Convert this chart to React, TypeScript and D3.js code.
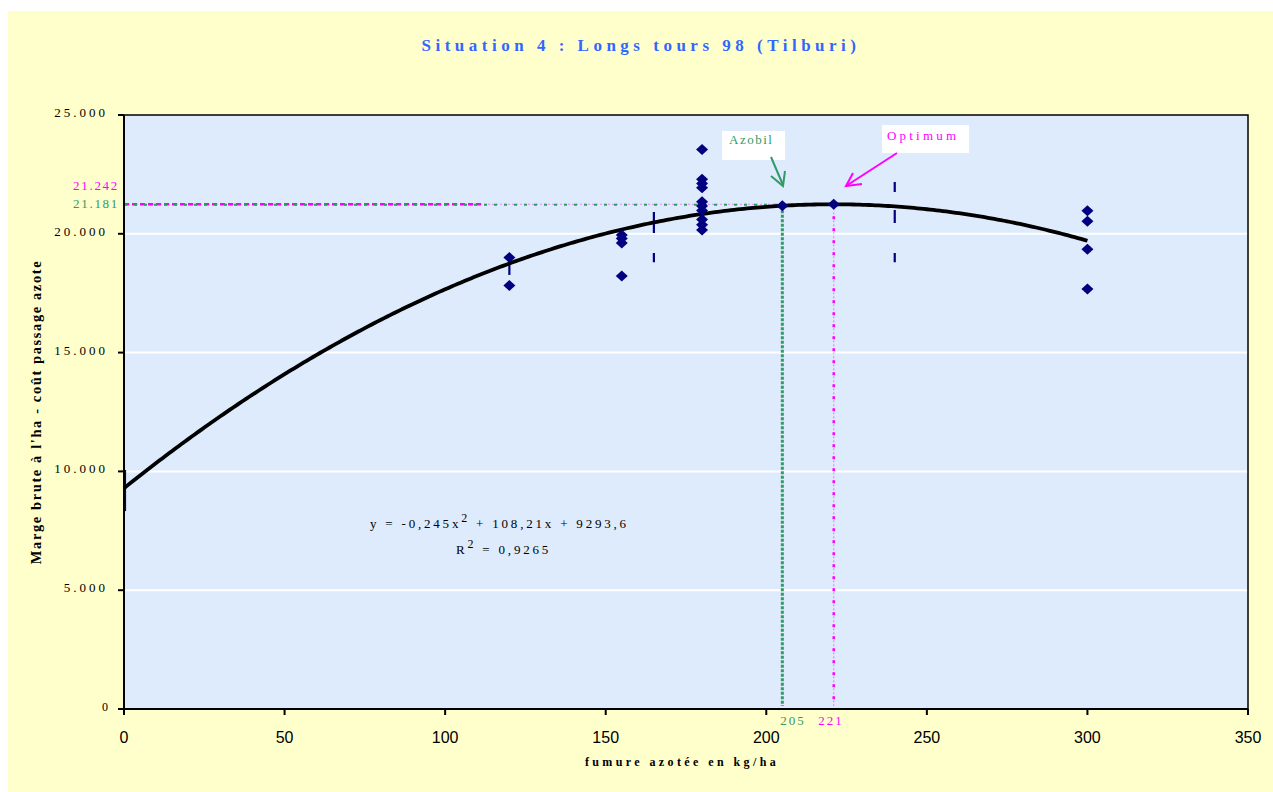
import React from "react";
import * as d3 from "d3";

const title = "Situation 4 : Longs tours 98 (Tilburi)";
const xLabel = "fumure azotée en kg/ha";
const yLabel = "Marge brute à l'ha - coût passage azote";

const xTicks = [0, 50, 100, 150, 200, 250, 300, 350];
const yTicks = [0, 5000, 10000, 15000, 20000, 25000];

// observed points (kg N/ha, margin €/ha)
const pointX = [120, 120, 155, 155, 155, 155, 180, 180, 180, 180, 180, 180, 180, 180, 180, 180, 205, 221, 300, 300, 300, 300];
const pointY = [19000, 17820, 19950, 19800, 19610, 18220, 23550, 22300, 22120, 21940, 21350, 21170, 20980, 20600, 20380, 20160, 21181, 21242, 20970, 20530, 19350, 17680];

// vertical interval marks
const barX = [0, 120, 165, 240];
const barLow = [8330, 18270, 18800, 18800];
const barHigh = [10060, 18780, 20920, 22180];
const barDash = ["", "", "21 20", "10 18 13 30"];

// trendline coefficients (from chart equation)
const coefA = -0.245;
const coefB = 108.21;
const coefC = 9293.6;
const trendXMin = 0;
const trendXMax = 300;

const azobilX = 205;
const azobilY = 21181;
const optimumX = 221;
const optimumY = 21242;

const W = 1273;
const H = 792;
const plot = { left: 124, right: 1248, top: 115, bottom: 709 };

export default function App() {
  const x = d3.scaleLinear().domain([0, 350]).range([plot.left, plot.right]);
  const y = d3.scaleLinear().domain([0, 25000]).range([plot.bottom, plot.top]);

  const trendPts: [number, number][] = d3
    .range(trendXMin, trendXMax + 0.001, 1)
    .map((v) => [v, coefA * v * v + coefB * v + coefC]);
  const line = d3
    .line<[number, number]>()
    .x((d) => x(d[0]))
    .y((d) => y(d[1]));

  const green = "#339966";
  const magenta = "#FF00FF";
  const navy = "#000080";
  const serif = "'Liberation Serif', 'Times New Roman', serif";
  const sans = "'Liberation Sans', Arial, sans-serif";

  const diamond = (cx: number, cy: number) =>
    `M${cx},${cy - 5.5}L${cx + 6},${cy}L${cx},${cy + 5.5}L${cx - 6},${cy}Z`;

  const fmt = (v: number) => (v === 0 ? "0" : d3.format(",")(v).replace(/,/g, "."));

  return (
    <svg
      width={W}
      height={H}
      style={{ position: "absolute", left: 0, top: 0 }}
      xmlns="http://www.w3.org/2000/svg"
    >
      <rect x={0} y={0} width={W} height={H} fill="#ffffff" />
      <rect x={8} y={11} width={W - 8} height={H - 11} fill="#FFFFCC" />

      <text
        x={641}
        y={51}
        textAnchor="middle"
        fontFamily={serif}
        fontWeight="bold"
        fontSize={17}
        letterSpacing={4.5}
        fill="#3366FF"
      >
        {title}
      </text>

      {/* plot area */}
      <rect
        x={plot.left}
        y={plot.top}
        width={plot.right - plot.left}
        height={plot.bottom - plot.top}
        fill="#DDEBFC"
      />
      {yTicks
        .filter((t) => t > 0 && t < 25000)
        .map((t) => (
          <line key={t} x1={plot.left} x2={plot.right} y1={y(t)} y2={y(t)} stroke="#ffffff" strokeWidth={2} />
        ))}
      <rect
        x={plot.left}
        y={plot.top}
        width={plot.right - plot.left}
        height={plot.bottom - plot.top}
        fill="none"
        stroke="#000"
        strokeWidth={1.5}
      />

      {/* reference lines */}
      <line x1={x(0)} x2={x(optimumX)} y1={y(optimumY)} y2={y(optimumY)} stroke={magenta} strokeOpacity={0.45} strokeWidth={1} strokeDasharray="2 2" />
      <line x1={x(0)} x2={x(112)} y1={y(optimumY)} y2={y(optimumY)} stroke={magenta} strokeWidth={2.5} strokeDasharray="5 3" />
      <line x1={x(0)} x2={x(azobilX)} y1={y(azobilY) - 1} y2={y(azobilY) - 1} stroke={green} strokeWidth={2} strokeDasharray="3 7" />
      <line x1={x(azobilX)} x2={x(azobilX)} y1={y(azobilY)} y2={plot.bottom - 3} stroke={green} strokeWidth={3} strokeDasharray="3 1.5" />
      <line x1={x(optimumX)} x2={x(optimumX)} y1={y(optimumY)} y2={plot.bottom - 3} stroke={magenta} strokeWidth={1} strokeOpacity={0.5} strokeDasharray="2 2" />
      <line x1={x(optimumX)} x2={x(optimumX)} y1={y(optimumY)} y2={plot.bottom - 3} stroke={magenta} strokeWidth={2.5} strokeDasharray="3 9" />

      {/* interval marks */}
      {barX.map((bx, i) => (
        <line
          key={i}
          x1={x(bx) + (bx === 0 ? 1 : 0)}
          x2={x(bx) + (bx === 0 ? 1 : 0)}
          y1={y(barHigh[i])}
          y2={y(barLow[i])}
          stroke={navy}
          strokeWidth={2.2}
          strokeDasharray={barDash[i] || undefined}
        />
      ))}

      {/* trendline */}
      <path d={line(trendPts) || ""} fill="none" stroke="#000" strokeWidth={3.8} />

      {/* points */}
      {pointX.map((px, i) => (
        <path key={i} d={diamond(x(px), y(pointY[i]))} fill={navy} />
      ))}

      {/* axes */}
      <line x1={plot.left} x2={plot.left} y1={plot.top} y2={plot.bottom} stroke="#000" strokeWidth={2} />
      <line x1={plot.left - 6} x2={plot.right} y1={plot.bottom} y2={plot.bottom} stroke="#000" strokeWidth={2} />
      {yTicks.map((t) => (
        <g key={t}>
          <line x1={plot.left - 6} x2={plot.left} y1={y(t)} y2={y(t)} stroke="#000" strokeWidth={2} />
          <text
            x={plot.left - 16}
            y={y(t) + 2}
            textAnchor="end"
            fontFamily={serif}
            fontSize={t === 0 ? 12 : 13}
            letterSpacing={t === 0 ? 0 : 3}
            fill="#000"
          >
            {fmt(t)}
          </text>
        </g>
      ))}
      {xTicks.map((t) => (
        <g key={t}>
          <line x1={x(t)} x2={x(t)} y1={plot.bottom} y2={plot.bottom + 6} stroke="#000" strokeWidth={2} />
          <text x={x(t)} y={743} textAnchor="middle" fontFamily={sans} fontSize={16} fill="#000">
            {t}
          </text>
        </g>
      ))}

      {/* value labels */}
      <text x={119} y={190} textAnchor="end" fontFamily={serif} fontSize={13} letterSpacing={1.7} fill={magenta}>
        {fmt(optimumY)}
      </text>
      <text x={119} y={208} textAnchor="end" fontFamily={serif} fontSize={13} letterSpacing={1.7} fill={green}>
        {fmt(azobilY)}
      </text>
      <text x={793} y={725} textAnchor="middle" fontFamily={serif} fontSize={13} letterSpacing={2} fill={green}>
        {azobilX}
      </text>
      <text x={831} y={725} textAnchor="middle" fontFamily={serif} fontSize={13} letterSpacing={2} fill={magenta}>
        {optimumX}
      </text>

      {/* annotations */}
      <rect x={722} y={131} width={63} height={29} fill="#ffffff" />
      <text x={729} y={144} fontFamily={serif} fontSize={13} letterSpacing={1.5} fill={green}>
        Azobil
      </text>
      <line x1={771} y1={157} x2={783} y2={185} stroke={green} strokeWidth={2} />
      <path d="M771,176 L783,186 L785,171" fill="none" stroke={green} strokeWidth={2} />

      <rect x={882} y={125} width={87} height={28} fill="#ffffff" />
      <text x={887} y={140} fontFamily={serif} fontSize={13} letterSpacing={3.2} fill={magenta}>
        Optimum
      </text>
      <line x1={897} y1={153} x2={846} y2={186} stroke={magenta} strokeWidth={2} />
      <path d="M853,173 L846,186 L862,184" fill="none" stroke={magenta} strokeWidth={2} />

      {/* equation */}
      <text x={370} y={528} fontFamily={serif} fontSize={13} letterSpacing={2.8} fill="#000">
        y = -0,245x
        <tspan dy={-6} fontSize={12}>2</tspan>
        <tspan dy={6}> + 108,21x + 9293,6</tspan>
      </text>
      <text x={456} y={554} fontFamily={serif} fontSize={13} letterSpacing={2.8} fill="#000">
        R
        <tspan dy={-6} fontSize={12}>2</tspan>
        <tspan dy={6}> = 0,9265</tspan>
      </text>

      {/* axis titles */}
      <text
        x={682}
        y={766}
        textAnchor="middle"
        fontFamily={serif}
        fontWeight="bold"
        fontSize={12}
        letterSpacing={3.4}
        fill="#000"
      >
        {xLabel}
      </text>
      <text
        transform={`translate(41,${412}) rotate(-90)`}
        textAnchor="middle"
        fontFamily={serif}
        fontWeight="bold"
        fontSize={14.5}
        letterSpacing={1.6}
        fill="#000"
      >
        {yLabel}
      </text>
    </svg>
  );
}
